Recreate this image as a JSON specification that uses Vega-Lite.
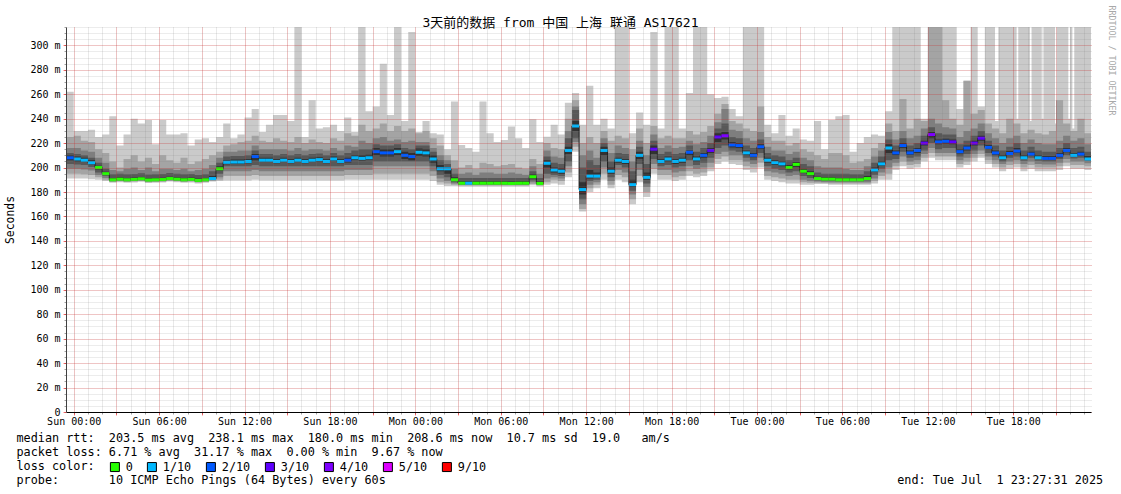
{
"$schema": "https://vega.github.io/schema/vega-lite/v6.json",
"width": 1025,
"height": 385,
"autosize": {"type": "none"},
"padding": {"left": 66, "top": 27, "right": 30, "bottom": 82},
"background": "#ffffff",
"config": {"view": {"stroke": null}, "font": "DejaVu Sans Mono"},
"data": {"values": [
{"t":"2025-06-28T23:30Z","m":208,"l":"2/10","a1":191,"b1":262,"a2":195,"b2":225,"a3":199,"b3":216,"a4":203,"b4":212,"a5":206,"b5":210},
{"t":"2025-06-29T00:00Z","m":207,"l":"1/10","a1":191,"b1":230,"a2":195,"b2":226,"a3":199,"b3":216,"a4":202.5,"b4":211,"a5":205,"b5":209},
{"t":"2025-06-29T00:30Z","m":206,"l":"1/10","a1":191,"b1":230,"a2":194.5,"b2":222,"a3":198.5,"b3":214,"a4":202,"b4":210,"a5":204.5,"b5":208},
{"t":"2025-06-29T01:00Z","m":204,"l":"1/10","a1":190.5,"b1":231,"a2":194,"b2":221,"a3":197.5,"b3":213,"a4":200.5,"b4":208,"a5":202.5,"b5":206},
{"t":"2025-06-29T01:30Z","m":200,"l":"0","a1":190,"b1":225,"a2":192,"b2":215,"a3":194,"b3":208,"a4":196,"b4":204,"a5":198.5,"b5":201.5},
{"t":"2025-06-29T02:00Z","m":195,"l":"0","a1":189,"b1":227,"a2":190,"b2":212,"a3":191.5,"b3":204,"a4":193,"b4":199,"a5":194.3,"b5":196.5},
{"t":"2025-06-29T02:30Z","m":190,"l":"0","a1":187.5,"b1":242,"a2":188.2,"b2":205,"a3":188.7,"b3":198,"a4":189.1,"b4":194.5,"a5":189.5,"b5":191.5},
{"t":"2025-06-29T03:00Z","m":190.5,"l":"0","a1":188,"b1":218,"a2":188.7,"b2":200,"a3":189.2,"b3":197,"a4":189.6,"b4":195,"a5":190,"b5":192},
{"t":"2025-06-29T03:30Z","m":190,"l":"0","a1":187.5,"b1":227,"a2":188.2,"b2":207,"a3":188.7,"b3":199,"a4":189.1,"b4":194.5,"a5":189.5,"b5":191.5},
{"t":"2025-06-29T04:00Z","m":190.3,"l":"0","a1":187.8,"b1":240,"a2":188.5,"b2":210,"a3":189,"b3":200,"a4":189.4,"b4":194.8,"a5":189.8,"b5":191.8},
{"t":"2025-06-29T04:30Z","m":190.8,"l":"0","a1":188.3,"b1":236,"a2":189,"b2":205,"a3":189.5,"b3":198,"a4":189.9,"b4":195.3,"a5":190.3,"b5":192.3},
{"t":"2025-06-29T05:00Z","m":189.8,"l":"0","a1":187.3,"b1":239,"a2":188,"b2":208,"a3":188.5,"b3":200,"a4":188.9,"b4":194.3,"a5":189.3,"b5":191.3},
{"t":"2025-06-29T05:30Z","m":190,"l":"0","a1":187.5,"b1":219,"a2":188.2,"b2":203,"a3":188.7,"b3":197,"a4":189.1,"b4":194.5,"a5":189.5,"b5":191.5},
{"t":"2025-06-29T06:00Z","m":190.2,"l":"0","a1":187.7,"b1":239,"a2":188.4,"b2":210,"a3":188.9,"b3":199,"a4":189.3,"b4":194.7,"a5":189.7,"b5":191.7},
{"t":"2025-06-29T06:30Z","m":191,"l":"0","a1":188.5,"b1":227,"a2":189.2,"b2":206,"a3":189.7,"b3":199,"a4":190.1,"b4":195.5,"a5":190.5,"b5":192.5},
{"t":"2025-06-29T07:00Z","m":190.5,"l":"0","a1":188,"b1":227,"a2":188.7,"b2":204,"a3":189.2,"b3":198,"a4":189.6,"b4":195,"a5":190,"b5":192},
{"t":"2025-06-29T07:30Z","m":190,"l":"0","a1":187.5,"b1":228,"a2":188.2,"b2":208,"a3":188.7,"b3":199,"a4":189.1,"b4":194.5,"a5":189.5,"b5":191.5},
{"t":"2025-06-29T08:00Z","m":190.3,"l":"0","a1":187.8,"b1":218,"a2":188.5,"b2":203,"a3":189,"b3":197,"a4":189.4,"b4":194.8,"a5":189.8,"b5":191.8},
{"t":"2025-06-29T08:30Z","m":189.5,"l":"0","a1":187,"b1":223,"a2":187.7,"b2":205,"a3":188.2,"b3":198,"a4":188.6,"b4":194,"a5":189,"b5":191},
{"t":"2025-06-29T09:00Z","m":190,"l":"0","a1":187.5,"b1":224,"a2":188.2,"b2":207,"a3":188.7,"b3":199,"a4":189.1,"b4":194.5,"a5":189.5,"b5":191.5},
{"t":"2025-06-29T09:30Z","m":191,"l":"1/10","a1":188.5,"b1":221,"a2":189.2,"b2":210,"a3":189.7,"b3":202,"a4":190.1,"b4":197,"a5":190.5,"b5":193},
{"t":"2025-06-29T10:00Z","m":199,"l":"0","a1":189,"b1":225,"a2":190,"b2":213,"a3":192,"b3":208,"a4":195,"b4":204,"a5":197.5,"b5":201},
{"t":"2025-06-29T10:30Z","m":204.3,"l":"1/10","a1":189.5,"b1":236,"a2":193,"b2":218,"a3":197,"b3":213,"a4":201,"b4":209,"a5":202.8,"b5":206},
{"t":"2025-06-29T11:00Z","m":204.5,"l":"1/10","a1":189.5,"b1":224,"a2":193,"b2":219,"a3":197,"b3":213,"a4":201,"b4":209.5,"a5":203,"b5":206.5},
{"t":"2025-06-29T11:30Z","m":204.5,"l":"1/10","a1":189.5,"b1":227,"a2":193,"b2":221,"a3":197,"b3":214,"a4":201,"b4":209.5,"a5":203,"b5":206.5},
{"t":"2025-06-29T12:00Z","m":205,"l":"1/10","a1":189.5,"b1":241,"a2":193,"b2":222,"a3":197,"b3":214,"a4":201,"b4":210,"a5":203.5,"b5":207},
{"t":"2025-06-29T12:30Z","m":209,"l":"2/10","a1":190,"b1":248,"a2":194,"b2":226,"a3":198,"b3":218,"a4":202,"b4":214,"a5":206,"b5":211},
{"t":"2025-06-29T13:00Z","m":206,"l":"1/10","a1":189.5,"b1":229,"a2":193,"b2":222,"a3":197,"b3":215,"a4":201,"b4":211,"a5":204.5,"b5":208},
{"t":"2025-06-29T13:30Z","m":206,"l":"1/10","a1":189.5,"b1":235,"a2":193,"b2":221,"a3":197,"b3":215,"a4":201,"b4":211,"a5":204.5,"b5":208},
{"t":"2025-06-29T14:00Z","m":205,"l":"1/10","a1":189.5,"b1":243,"a2":193,"b2":224,"a3":197,"b3":215,"a4":201,"b4":210,"a5":203.5,"b5":207},
{"t":"2025-06-29T14:30Z","m":206,"l":"1/10","a1":189.5,"b1":243,"a2":193,"b2":222,"a3":197,"b3":215,"a4":201,"b4":211,"a5":204.5,"b5":208},
{"t":"2025-06-29T15:00Z","m":205,"l":"1/10","a1":189.5,"b1":238,"a2":193,"b2":221,"a3":197,"b3":214,"a4":201,"b4":210,"a5":203.5,"b5":207},
{"t":"2025-06-29T15:30Z","m":206,"l":"1/10","a1":189.5,"b1":315,"a2":193,"b2":225,"a3":197,"b3":216,"a4":201,"b4":211,"a5":204.5,"b5":208},
{"t":"2025-06-29T16:00Z","m":205,"l":"1/10","a1":189.5,"b1":225,"a2":193,"b2":220,"a3":197,"b3":214,"a4":201,"b4":210,"a5":203.5,"b5":207},
{"t":"2025-06-29T16:30Z","m":206,"l":"1/10","a1":189.5,"b1":255,"a2":193,"b2":223,"a3":197,"b3":215,"a4":201,"b4":211,"a5":204.5,"b5":208},
{"t":"2025-06-29T17:00Z","m":206.5,"l":"1/10","a1":189.5,"b1":232,"a2":193,"b2":221,"a3":197,"b3":215,"a4":201,"b4":211.5,"a5":205,"b5":208.5},
{"t":"2025-06-29T17:30Z","m":205,"l":"1/10","a1":189.5,"b1":233,"a2":193,"b2":220,"a3":197,"b3":214,"a4":201,"b4":210,"a5":203.5,"b5":207},
{"t":"2025-06-29T18:00Z","m":207,"l":"1/10","a1":189.5,"b1":235,"a2":193,"b2":224,"a3":197,"b3":216,"a4":201,"b4":212,"a5":205.5,"b5":209},
{"t":"2025-06-29T18:30Z","m":205,"l":"1/10","a1":189.5,"b1":230,"a2":193,"b2":222,"a3":197,"b3":214,"a4":201,"b4":210,"a5":203.5,"b5":207},
{"t":"2025-06-29T19:00Z","m":206,"l":"2/10","a1":190,"b1":241,"a2":194,"b2":228,"a3":198,"b3":218,"a4":202,"b4":212,"a5":204.2,"b5":208},
{"t":"2025-06-29T19:30Z","m":208,"l":"1/10","a1":190,"b1":229,"a2":194,"b2":226,"a3":198,"b3":217,"a4":202,"b4":214,"a5":206.2,"b5":210},
{"t":"2025-06-29T20:00Z","m":207.5,"l":"1/10","a1":190,"b1":315,"a2":194,"b2":235,"a3":198,"b3":222,"a4":202,"b4":215,"a5":205.7,"b5":210},
{"t":"2025-06-29T20:30Z","m":208,"l":"1/10","a1":190,"b1":246,"a2":194,"b2":230,"a3":198,"b3":220,"a4":202,"b4":215,"a5":206.2,"b5":210.5},
{"t":"2025-06-29T21:00Z","m":213,"l":"2/10","a1":190,"b1":250,"a2":195,"b2":232,"a3":201,"b3":224,"a4":205,"b4":219,"a5":210,"b5":216},
{"t":"2025-06-29T21:30Z","m":212,"l":"2/10","a1":190,"b1":285,"a2":195,"b2":236,"a3":201,"b3":225,"a4":205,"b4":218,"a5":209,"b5":215},
{"t":"2025-06-29T22:00Z","m":212,"l":"2/10","a1":190,"b1":243,"a2":195,"b2":230,"a3":201,"b3":222,"a4":205,"b4":218,"a5":209,"b5":215},
{"t":"2025-06-29T22:30Z","m":213,"l":"1/10","a1":190,"b1":315,"a2":195,"b2":234,"a3":201,"b3":223,"a4":205,"b4":219,"a5":210,"b5":216},
{"t":"2025-06-29T23:00Z","m":210,"l":"2/10","a1":190,"b1":238,"a2":195,"b2":230,"a3":201,"b3":221,"a4":205,"b4":216,"a5":207,"b5":213},
{"t":"2025-06-29T23:30Z","m":209,"l":"2/10","a1":190,"b1":311,"a2":195,"b2":232,"a3":201,"b3":222,"a4":205,"b4":215,"a5":206,"b5":212},
{"t":"2025-06-30T00:00Z","m":212.5,"l":"1/10","a1":190,"b1":229,"a2":195,"b2":228,"a3":201,"b3":221,"a4":205,"b4":218,"a5":209.5,"b5":215.5},
{"t":"2025-06-30T00:30Z","m":212,"l":"1/10","a1":190,"b1":238,"a2":195,"b2":230,"a3":201,"b3":221,"a4":205,"b4":218,"a5":209,"b5":215},
{"t":"2025-06-30T01:00Z","m":207,"l":"1/10","a1":189,"b1":228,"a2":193,"b2":224,"a3":197,"b3":216,"a4":201,"b4":213,"a5":204,"b5":210},
{"t":"2025-06-30T01:30Z","m":199,"l":"1/10","a1":186,"b1":227,"a2":188,"b2":218,"a3":191,"b3":210,"a4":194,"b4":206,"a5":197,"b5":202},
{"t":"2025-06-30T02:00Z","m":199,"l":"1/10","a1":185,"b1":215,"a2":187,"b2":210,"a3":189,"b3":206,"a4":192,"b4":203,"a5":195,"b5":200.5},
{"t":"2025-06-30T02:30Z","m":190,"l":"0","a1":185,"b1":254,"a2":186,"b2":206,"a3":187,"b3":199,"a4":188,"b4":195,"a5":189,"b5":192},
{"t":"2025-06-30T03:00Z","m":187.2,"l":"0","a1":184.5,"b1":218.5,"a2":185.3,"b2":200,"a3":185.8,"b3":195,"a4":186.3,"b4":191.5,"a5":186.7,"b5":188.7},
{"t":"2025-06-30T03:30Z","m":187.2,"l":"1/10","a1":184.5,"b1":216,"a2":185.3,"b2":202,"a3":185.8,"b3":196,"a4":186.3,"b4":191.5,"a5":186.7,"b5":188.7},
{"t":"2025-06-30T04:00Z","m":187.2,"l":"0","a1":184.5,"b1":213,"a2":185.3,"b2":199,"a3":185.8,"b3":194,"a4":186.3,"b4":191.5,"a5":186.7,"b5":188.7},
{"t":"2025-06-30T04:30Z","m":187.2,"l":"0","a1":184.5,"b1":254,"a2":185.3,"b2":204,"a3":185.8,"b3":196,"a4":186.3,"b4":191.5,"a5":186.7,"b5":188.7},
{"t":"2025-06-30T05:00Z","m":187.2,"l":"0","a1":184.5,"b1":228,"a2":185.3,"b2":203,"a3":185.8,"b3":196,"a4":186.3,"b4":191.5,"a5":186.7,"b5":188.7},
{"t":"2025-06-30T05:30Z","m":187.2,"l":"0","a1":184.5,"b1":221,"a2":185.3,"b2":201,"a3":185.8,"b3":195,"a4":186.3,"b4":191.5,"a5":186.7,"b5":188.7},
{"t":"2025-06-30T06:00Z","m":187.2,"l":"0","a1":184.5,"b1":222.6,"a2":185.3,"b2":202,"a3":185.8,"b3":195,"a4":186.3,"b4":191.5,"a5":186.7,"b5":188.7},
{"t":"2025-06-30T06:30Z","m":187,"l":"0","a1":184.5,"b1":233.5,"a2":185.3,"b2":203,"a3":185.8,"b3":196,"a4":186.3,"b4":191.5,"a5":186.6,"b5":188.5},
{"t":"2025-06-30T07:00Z","m":187.2,"l":"0","a1":184.5,"b1":224,"a2":185.3,"b2":200,"a3":185.8,"b3":195,"a4":186.3,"b4":191.5,"a5":186.7,"b5":188.7},
{"t":"2025-06-30T07:30Z","m":187.2,"l":"0","a1":184.5,"b1":216,"a2":185.3,"b2":199,"a3":185.8,"b3":194,"a4":186.3,"b4":191.5,"a5":186.7,"b5":188.7},
{"t":"2025-06-30T08:00Z","m":192.5,"l":"0","a1":185.5,"b1":239.5,"a2":186.5,"b2":207,"a3":188,"b3":201,"a4":189.5,"b4":197,"a5":191,"b5":194.5},
{"t":"2025-06-30T08:30Z","m":187,"l":"0","a1":184.5,"b1":221,"a2":185.3,"b2":203,"a3":185.8,"b3":195,"a4":186.3,"b4":191.5,"a5":186.6,"b5":188.5},
{"t":"2025-06-30T09:00Z","m":203.5,"l":"1/10","a1":186,"b1":225.3,"a2":188,"b2":220,"a3":191,"b3":214,"a4":195,"b4":209,"a5":200,"b5":206},
{"t":"2025-06-30T09:30Z","m":198,"l":"1/10","a1":187,"b1":235,"a2":190,"b2":216,"a3":192,"b3":209,"a4":194,"b4":204,"a5":196,"b5":200},
{"t":"2025-06-30T10:00Z","m":197,"l":"1/10","a1":186,"b1":227,"a2":189,"b2":215,"a3":191,"b3":208,"a4":193,"b4":203,"a5":195,"b5":199.5},
{"t":"2025-06-30T10:30Z","m":214,"l":"1/10","a1":192,"b1":253,"a2":196,"b2":240,"a3":201,"b3":230,"a4":205,"b4":224,"a5":211,"b5":217},
{"t":"2025-06-30T11:00Z","m":234,"l":"1/10","a1":213,"b1":261,"a2":217,"b2":255,"a3":221,"b3":250,"a4":224,"b4":247,"a5":230,"b5":238},
{"t":"2025-06-30T11:30Z","m":182,"l":"1/10","a1":164,"b1":235,"a2":166,"b2":220,"a3":170,"b3":210,"a4":174,"b4":200,"a5":178,"b5":188},
{"t":"2025-06-30T12:00Z","m":193,"l":"1/10","a1":180,"b1":267,"a2":183,"b2":225,"a3":186,"b3":214,"a4":189,"b4":206,"a5":191,"b5":198},
{"t":"2025-06-30T12:30Z","m":193,"l":"1/10","a1":183,"b1":235,"a2":186,"b2":220,"a3":188,"b3":208,"a4":190,"b4":202,"a5":192,"b5":196},
{"t":"2025-06-30T13:00Z","m":214,"l":"1/10","a1":190,"b1":240,"a2":195,"b2":230,"a3":200,"b3":224,"a4":205,"b4":220,"a5":210,"b5":217},
{"t":"2025-06-30T13:30Z","m":197,"l":"1/10","a1":183,"b1":232,"a2":186,"b2":222,"a3":189,"b3":212,"a4":192,"b4":205,"a5":195,"b5":200},
{"t":"2025-06-30T14:00Z","m":206,"l":"1/10","a1":190,"b1":315,"a2":194,"b2":226,"a3":198,"b3":218,"a4":202,"b4":212,"a5":204,"b5":208},
{"t":"2025-06-30T14:30Z","m":205,"l":"1/10","a1":188,"b1":315,"a2":192,"b2":224,"a3":196,"b3":216,"a4":200,"b4":211,"a5":203,"b5":207},
{"t":"2025-06-30T15:00Z","m":186,"l":"1/10","a1":170,"b1":228,"a2":174,"b2":215,"a3":178,"b3":205,"a4":181,"b4":197,"a5":184,"b5":190},
{"t":"2025-06-30T15:30Z","m":210,"l":"1/10","a1":188,"b1":245,"a2":193,"b2":232,"a3":198,"b3":222,"a4":203,"b4":217,"a5":207,"b5":213},
{"t":"2025-06-30T16:00Z","m":192,"l":"1/10","a1":176,"b1":235,"a2":180,"b2":220,"a3":184,"b3":210,"a4":187,"b4":203,"a5":190,"b5":196},
{"t":"2025-06-30T16:30Z","m":215,"l":"3/10","a1":195,"b1":311,"a2":199,"b2":234,"a3":203,"b3":227,"a4":207,"b4":222,"a5":211,"b5":218},
{"t":"2025-06-30T17:00Z","m":205,"l":"1/10","a1":190,"b1":232,"a2":194,"b2":224,"a3":198,"b3":216,"a4":201,"b4":211,"a5":203.5,"b5":207},
{"t":"2025-06-30T17:30Z","m":207,"l":"1/10","a1":190,"b1":315,"a2":194,"b2":226,"a3":198,"b3":218,"a4":202,"b4":213,"a5":205,"b5":209},
{"t":"2025-06-30T18:00Z","m":205,"l":"1/10","a1":189,"b1":315,"a2":192,"b2":224,"a3":196,"b3":216,"a4":200,"b4":211,"a5":203,"b5":207},
{"t":"2025-06-30T18:30Z","m":206,"l":"1/10","a1":190,"b1":232,"a2":193,"b2":224,"a3":197,"b3":217,"a4":201,"b4":212,"a5":204,"b5":208},
{"t":"2025-06-30T19:00Z","m":212.5,"l":"2/10","a1":193,"b1":261,"a2":197,"b2":230,"a3":201,"b3":222,"a4":206,"b4":218,"a5":210,"b5":214},
{"t":"2025-06-30T19:30Z","m":207,"l":"1/10","a1":192,"b1":315,"a2":195,"b2":227,"a3":199,"b3":219,"a4":202,"b4":213,"a5":205,"b5":209},
{"t":"2025-06-30T20:00Z","m":210,"l":"2/10","a1":193,"b1":315,"a2":196,"b2":229,"a3":200,"b3":221,"a4":204,"b4":216,"a5":208,"b5":212},
{"t":"2025-06-30T20:30Z","m":214,"l":"3/10","a1":197,"b1":260,"a2":200,"b2":234,"a3":204,"b3":226,"a4":208,"b4":220,"a5":212,"b5":216},
{"t":"2025-06-30T21:00Z","m":225,"l":"3/10","a1":203,"b1":257,"a2":207,"b2":244,"a3":211,"b3":237,"a4":216,"b4":232,"a5":221,"b5":228},
{"t":"2025-06-30T21:30Z","m":226,"l":"4/10","a1":205,"b1":258,"a2":209,"b2":252,"a3":213,"b3":248,"a4":218,"b4":236,"a5":223,"b5":229},
{"t":"2025-06-30T22:00Z","m":218.5,"l":"2/10","a1":203,"b1":248,"a2":206,"b2":238,"a3":210,"b3":231,"a4":214,"b4":225,"a5":216.5,"b5":221},
{"t":"2025-06-30T22:30Z","m":218,"l":"2/10","a1":202,"b1":242,"a2":206,"b2":236,"a3":210,"b3":230,"a4":213,"b4":224,"a5":216,"b5":220},
{"t":"2025-06-30T23:00Z","m":212,"l":"1/10","a1":198,"b1":315,"a2":201,"b2":232,"a3":205,"b3":224,"a4":208,"b4":218,"a5":210,"b5":214},
{"t":"2025-06-30T23:30Z","m":210,"l":"2/10","a1":196,"b1":315,"a2":200,"b2":230,"a3":203,"b3":222,"a4":206,"b4":216,"a5":208.5,"b5":212},
{"t":"2025-07-01T00:00Z","m":217,"l":"2/10","a1":200,"b1":315,"a2":204,"b2":250,"a3":208,"b3":229,"a4":212,"b4":223,"a5":215,"b5":219},
{"t":"2025-07-01T00:30Z","m":206,"l":"1/10","a1":190,"b1":235,"a2":193,"b2":225,"a3":197,"b3":217,"a4":201,"b4":212,"a5":204,"b5":208},
{"t":"2025-07-01T01:00Z","m":204,"l":"1/10","a1":189,"b1":228,"a2":192,"b2":222,"a3":196,"b3":214,"a4":199,"b4":210,"a5":202,"b5":206},
{"t":"2025-07-01T01:30Z","m":203,"l":"1/10","a1":188,"b1":243,"a2":191,"b2":222,"a3":195,"b3":214,"a4":198,"b4":209,"a5":201,"b5":205},
{"t":"2025-07-01T02:00Z","m":200,"l":"0","a1":187,"b1":226,"a2":190,"b2":218,"a3":193,"b3":211,"a4":196,"b4":206,"a5":198.5,"b5":202},
{"t":"2025-07-01T02:30Z","m":202.6,"l":"0","a1":187,"b1":232,"a2":190,"b2":220,"a3":194,"b3":213,"a4":197,"b4":208,"a5":200.5,"b5":204.5},
{"t":"2025-07-01T03:00Z","m":197,"l":"0","a1":186,"b1":223,"a2":188,"b2":215,"a3":190,"b3":208,"a4":193,"b4":203,"a5":195.5,"b5":199},
{"t":"2025-07-01T03:30Z","m":195,"l":"0","a1":186,"b1":222,"a2":187.5,"b2":213,"a3":189,"b3":206,"a4":191.5,"b4":201,"a5":193.5,"b5":197},
{"t":"2025-07-01T04:00Z","m":191,"l":"0","a1":186.5,"b1":238,"a2":187.5,"b2":210,"a3":188.5,"b3":201,"a4":189.5,"b4":196,"a5":190.3,"b5":192.5},
{"t":"2025-07-01T04:30Z","m":190.5,"l":"0","a1":186.5,"b1":215,"a2":187.3,"b2":207,"a3":188.2,"b3":200,"a4":189,"b4":195,"a5":189.8,"b5":192},
{"t":"2025-07-01T05:00Z","m":190.5,"l":"0","a1":186,"b1":239,"a2":187,"b2":212,"a3":188,"b3":200,"a4":189,"b4":195,"a5":189.7,"b5":192},
{"t":"2025-07-01T05:30Z","m":190,"l":"0","a1":186,"b1":242,"a2":187,"b2":212,"a3":188,"b3":200,"a4":188.8,"b4":195,"a5":189.4,"b5":191.5},
{"t":"2025-07-01T06:00Z","m":190,"l":"0","a1":186,"b1":243,"a2":187,"b2":210,"a3":188,"b3":199,"a4":188.8,"b4":195,"a5":189.4,"b5":191.5},
{"t":"2025-07-01T06:30Z","m":190,"l":"0","a1":186,"b1":213,"a2":187,"b2":204,"a3":188,"b3":198,"a4":188.8,"b4":194.5,"a5":189.4,"b5":191.5},
{"t":"2025-07-01T07:00Z","m":190,"l":"0","a1":186,"b1":220,"a2":187,"b2":205,"a3":188,"b3":198,"a4":188.8,"b4":194.5,"a5":189.4,"b5":191.5},
{"t":"2025-07-01T07:30Z","m":191,"l":"0","a1":186,"b1":225,"a2":187,"b2":207,"a3":188,"b3":201,"a4":189.5,"b4":197,"a5":190.3,"b5":193},
{"t":"2025-07-01T08:00Z","m":198,"l":"1/10","a1":187,"b1":227,"a2":189,"b2":216,"a3":191,"b3":209,"a4":194,"b4":204,"a5":196.5,"b5":200},
{"t":"2025-07-01T08:30Z","m":203,"l":"1/10","a1":190,"b1":226,"a2":193,"b2":220,"a3":196,"b3":214,"a4":199,"b4":209,"a5":201.5,"b5":205},
{"t":"2025-07-01T09:00Z","m":216,"l":"1/10","a1":190,"b1":246,"a2":195,"b2":236,"a3":200,"b3":229,"a4":206,"b4":223,"a5":212,"b5":219},
{"t":"2025-07-01T09:30Z","m":212,"l":"2/10","a1":198,"b1":315,"a2":201,"b2":230,"a3":204,"b3":223,"a4":207,"b4":218,"a5":210,"b5":214},
{"t":"2025-07-01T10:00Z","m":218,"l":"2/10","a1":201,"b1":315,"a2":205,"b2":256,"a3":209,"b3":230,"a4":213,"b4":224,"a5":216,"b5":220},
{"t":"2025-07-01T10:30Z","m":212,"l":"2/10","a1":199,"b1":315,"a2":202,"b2":232,"a3":205,"b3":224,"a4":208,"b4":218,"a5":210.5,"b5":214},
{"t":"2025-07-01T11:00Z","m":214,"l":"2/10","a1":200,"b1":315,"a2":203,"b2":240,"a3":206,"b3":226,"a4":209,"b4":220,"a5":212,"b5":216},
{"t":"2025-07-01T11:30Z","m":220,"l":"3/10","a1":205,"b1":240,"a2":208,"b2":238,"a3":211,"b3":232,"a4":214,"b4":226,"a5":218,"b5":222},
{"t":"2025-07-01T12:00Z","m":227,"l":"4/10","a1":208,"b1":315,"a2":212,"b2":315,"a3":216,"b3":240,"a4":220,"b4":233,"a5":224,"b5":229},
{"t":"2025-07-01T12:30Z","m":221,"l":"2/10","a1":206,"b1":315,"a2":209,"b2":315,"a3":212,"b3":236,"a4":215,"b4":228,"a5":219,"b5":223},
{"t":"2025-07-01T13:00Z","m":221.5,"l":"2/10","a1":206,"b1":315,"a2":209,"b2":255,"a3":212,"b3":233,"a4":216,"b4":227,"a5":219.5,"b5":223.5},
{"t":"2025-07-01T13:30Z","m":221,"l":"3/10","a1":206,"b1":315,"a2":209,"b2":240,"a3":212,"b3":232,"a4":216,"b4":227,"a5":219,"b5":223},
{"t":"2025-07-01T14:00Z","m":213,"l":"2/10","a1":200,"b1":248,"a2":203,"b2":235,"a3":206,"b3":225,"a4":209,"b4":219,"a5":211.5,"b5":215},
{"t":"2025-07-01T14:30Z","m":216,"l":"2/10","a1":202,"b1":271,"a2":205,"b2":271,"a3":208,"b3":230,"a4":211,"b4":222,"a5":214,"b5":218},
{"t":"2025-07-01T15:00Z","m":220,"l":"3/10","a1":205,"b1":315,"a2":208,"b2":244,"a3":211,"b3":232,"a4":214,"b4":226,"a5":218,"b5":222},
{"t":"2025-07-01T15:30Z","m":224,"l":"3/10","a1":208,"b1":250,"a2":211,"b2":247,"a3":214,"b3":236,"a4":218,"b4":230,"a5":222,"b5":226},
{"t":"2025-07-01T16:00Z","m":216.5,"l":"2/10","a1":203,"b1":315,"a2":206,"b2":236,"a3":209,"b3":228,"a4":212,"b4":222,"a5":215,"b5":218.5},
{"t":"2025-07-01T16:30Z","m":212,"l":"2/10","a1":200,"b1":315,"a2":203,"b2":232,"a3":206,"b3":224,"a4":209,"b4":218,"a5":210.5,"b5":214},
{"t":"2025-07-01T16:43Z","a1":200,"b1":238,"a2":203,"b2":232,"a3":206,"b3":224,"a4":209,"b4":218,"a5":210.5,"b5":214},
{"t":"2025-07-01T16:57Z","a1":200,"b1":315,"a2":203,"b2":232,"a3":206,"b3":224,"a4":209,"b4":218,"a5":210.5,"b5":214},
{"t":"2025-07-01T17:00Z","m":208,"l":"1/10","a1":197,"b1":315,"a2":200,"b2":228,"a3":203,"b3":220,"a4":205,"b4":214,"a5":206.5,"b5":210},
{"t":"2025-07-01T17:30Z","m":211.5,"l":"2/10","a1":199,"b1":315,"a2":202,"b2":240,"a3":205,"b3":224,"a4":208,"b4":217,"a5":210,"b5":213.5},
{"t":"2025-07-01T18:00Z","m":213.5,"l":"2/10","a1":200,"b1":315,"a2":203,"b2":236,"a3":206,"b3":226,"a4":209,"b4":220,"a5":212,"b5":216},
{"t":"2025-07-01T18:14Z","a1":200,"b1":240,"a2":203,"b2":236,"a3":206,"b3":226,"a4":209,"b4":220,"a5":212,"b5":216},
{"t":"2025-07-01T18:21Z","a1":200,"b1":315,"a2":203,"b2":236,"a3":206,"b3":226,"a4":209,"b4":220,"a5":212,"b5":216},
{"t":"2025-07-01T18:30Z","m":208,"l":"1/10","a1":197,"b1":315,"a2":200,"b2":228,"a3":203,"b3":220,"a4":205.5,"b4":214,"a5":207,"b5":210},
{"t":"2025-07-01T19:00Z","m":211,"l":"2/10","a1":199,"b1":315,"a2":202,"b2":231,"a3":205,"b3":223,"a4":208,"b4":217,"a5":209.5,"b5":213},
{"t":"2025-07-01T19:10Z","a1":199,"b1":238,"a2":202,"b2":231,"a3":205,"b3":223,"a4":208,"b4":217,"a5":209.5,"b5":213},
{"t":"2025-07-01T19:17Z","a1":199,"b1":315,"a2":202,"b2":231,"a3":205,"b3":223,"a4":208,"b4":217,"a5":209.5,"b5":213},
{"t":"2025-07-01T19:30Z","m":208,"l":"1/10","a1":197,"b1":315,"a2":200,"b2":228,"a3":203,"b3":220,"a4":205.5,"b4":214,"a5":207,"b5":210},
{"t":"2025-07-01T20:00Z","m":207.5,"l":"2/10","a1":197,"b1":240,"a2":200,"b2":227,"a3":202.5,"b3":219,"a4":205,"b4":213,"a5":206.5,"b5":209.5},
{"t":"2025-07-01T20:07Z","a1":197,"b1":315,"a2":200,"b2":227,"a3":202.5,"b3":219,"a4":205,"b4":213,"a5":206.5,"b5":209.5},
{"t":"2025-07-01T20:30Z","m":207.5,"l":"2/10","a1":197,"b1":315,"a2":200,"b2":230,"a3":202.5,"b3":219,"a4":205,"b4":213,"a5":206.5,"b5":209.5},
{"t":"2025-07-01T20:56Z","a1":197,"b1":236,"a2":200,"b2":230,"a3":202.5,"b3":219,"a4":205,"b4":213,"a5":206.5,"b5":209.5},
{"t":"2025-07-01T21:00Z","m":210,"l":"2/10","a1":198,"b1":236,"a2":201,"b2":255,"a3":204,"b3":222,"a4":207,"b4":216,"a5":208.5,"b5":212},
{"t":"2025-07-01T21:03Z","a1":198,"b1":315,"a2":201,"b2":255,"a3":204,"b3":222,"a4":207,"b4":216,"a5":208.5,"b5":212},
{"t":"2025-07-01T21:30Z","m":214,"l":"2/10","a1":201,"b1":315,"a2":204,"b2":236,"a3":207,"b3":226,"a4":210,"b4":220,"a5":212.5,"b5":216},
{"t":"2025-07-01T21:52Z","a1":201,"b1":240,"a2":204,"b2":236,"a3":207,"b3":226,"a4":210,"b4":220,"a5":212.5,"b5":216},
{"t":"2025-07-01T21:59Z","a1":201,"b1":315,"a2":204,"b2":236,"a3":207,"b3":226,"a4":210,"b4":220,"a5":212.5,"b5":216},
{"t":"2025-07-01T22:00Z","m":210,"l":"1/10","a1":199,"b1":315,"a2":202,"b2":230,"a3":205,"b3":222,"a4":207.5,"b4":216,"a5":209,"b5":212},
{"t":"2025-07-01T22:09Z","a1":199,"b1":232,"a2":202,"b2":230,"a3":205,"b3":222,"a4":207.5,"b4":216,"a5":209,"b5":212},
{"t":"2025-07-01T22:17Z","a1":199,"b1":315,"a2":202,"b2":230,"a3":205,"b3":222,"a4":207.5,"b4":216,"a5":209,"b5":212},
{"t":"2025-07-01T22:30Z","m":211,"l":"2/10","a1":199,"b1":315,"a2":202,"b2":240,"a3":205,"b3":224,"a4":208,"b4":217,"a5":209.5,"b5":213},
{"t":"2025-07-01T23:00Z","m":207,"l":"1/10","a1":198,"b1":315,"a2":201,"b2":228,"a3":203.5,"b3":219,"a4":205.5,"b4":213,"a5":206.5,"b5":209.5},
{"t":"2025-07-01T23:30Z","m":207,"l":"1/10","a1":198,"b1":315,"a2":201,"b2":228,"a3":203.5,"b3":219,"a4":205.5,"b4":213,"a5":206.5,"b5":209.5}
]},
"resolve": {"axis": {"x": "independent", "y": "independent"}},
"layer": [
{
"mark": {"type": "area", "interpolate": "step-after", "color": "#cacaca", "opacity": 1, "clip": true},
"encoding": {
"x": {"field": "t", "type": "temporal",
"scale": {"type": "utc", "domain": [1751153251000, 1751412451000]},
"axis": {"orient": "bottom", "tickCount": 72, "grid": true, "gridColor": "#808080", "gridOpacity": 0.35, "gridDash": [1, 1], "labels": false, "ticks": true, "tickSize": 2, "tickColor": "#a0a0a0", "domain": false, "title": null, "zindex": 1}},
"y": {"field": "a1", "type": "quantitative", "scale": {"domain": [0, 315], "nice": false, "zero": true},
"axis": {"orient": "left", "values": [0,5,10,15,20,25,30,35,40,45,50,55,60,65,70,75,80,85,90,95,100,105,110,115,120,125,130,135,140,145,150,155,160,165,170,175,180,185,190,195,200,205,210,215,220,225,230,235,240,245,250,255,260,265,270,275,280,285,290,295,300,305,310,315], "grid": true, "gridColor": "#808080", "gridOpacity": 0.3, "gridDash": [1, 1], "labels": false, "ticks": true, "tickSize": 2, "tickColor": "#a0a0a0", "domain": false, "title": null, "zindex": 1}},
"y2": {"field": "b1"}
}
},
{
"mark": {"type": "area", "interpolate": "step-after", "color": "#a4a4a4", "opacity": 1, "clip": true},
"encoding": {
"x": {"field": "t", "type": "temporal",
"axis": {"orient": "bottom", "tickCount": 24, "grid": true, "gridColor": "#ff0000", "gridOpacity": 0.33, "gridDash": [1, 1], "labels": false, "ticks": true, "tickSize": 3, "tickColor": "#ff0000", "tickOpacity": 0.5, "domain": false, "title": null, "zindex": 1}},
"y": {"field": "a2", "type": "quantitative",
"axis": {"orient": "left", "values": [0,20,40,60,80,100,120,140,160,180,200,220,240,260,280,300], "grid": true, "gridColor": "#ff0000", "gridOpacity": 0.33, "gridDash": [1, 1], "labels": false, "ticks": true, "tickSize": 3, "tickColor": "#ff0000", "tickOpacity": 0.5, "domain": false, "title": null, "zindex": 1}},
"y2": {"field": "b2"}
}
},
{
"mark": {"type": "area", "interpolate": "step-after", "color": "#7e7e7e", "opacity": 1, "clip": true},
"encoding": {
"x": {"field": "t", "type": "temporal",
"axis": {"orient": "bottom", "tickCount": 12, "format": "%a %H:%M", "grid": false, "ticks": false, "labels": true, "labelFont": "DejaVu Sans Mono", "labelFontSize": 10, "labelColor": "#000000", "labelPadding": 4, "labelFlush": false, "labelOverlap": false, "domain": true, "domainColor": "#000000", "domainWidth": 1, "zindex": 1,
"title": ["median rtt:\u00a0\u00a0203.5 ms avg\u00a0\u00a0238.1 ms max\u00a0\u00a0180.0 ms min\u00a0\u00a0208.6 ms now\u00a0\u00a010.7 ms sd\u00a0\u00a019.0\u00a0\u00a0\u00a0am/s", "packet loss: 6.71 % avg\u00a0\u00a031.17 % max\u00a0\u00a00.00 % min\u00a0\u00a09.67 % now", "loss color:", "probe:\u00a0\u00a0\u00a0\u00a0\u00a0\u00a0\u00a010 ICMP Echo Pings (64 Bytes) every 60s\u00a0\u00a0\u00a0\u00a0\u00a0\u00a0\u00a0\u00a0\u00a0\u00a0\u00a0\u00a0\u00a0\u00a0\u00a0\u00a0\u00a0\u00a0\u00a0\u00a0\u00a0\u00a0\u00a0\u00a0\u00a0\u00a0\u00a0\u00a0\u00a0\u00a0\u00a0\u00a0\u00a0\u00a0\u00a0\u00a0\u00a0\u00a0\u00a0\u00a0\u00a0\u00a0\u00a0\u00a0\u00a0\u00a0\u00a0\u00a0\u00a0\u00a0\u00a0\u00a0\u00a0\u00a0\u00a0\u00a0\u00a0\u00a0\u00a0\u00a0\u00a0\u00a0\u00a0\u00a0\u00a0\u00a0\u00a0\u00a0\u00a0\u00a0\u00a0\u00a0end: Tue Jul\u00a0\u00a01 23:27:31 2025"],
"titleFont": "DejaVu Sans Mono", "titleFontSize": 11.8, "titleFontWeight": "normal", "titleColor": "#000000", "titleAlign": "left", "titleBaseline": "top", "titleX": -50, "titleY": 20, "titleLineHeight": 14}},
"y": {"field": "a3", "type": "quantitative",
"axis": {"orient": "left", "values": [0,20,40,60,80,100,120,140,160,180,200,220,240,260,280,300], "labelExpr": "datum.value == 0 ? '0' : datum.value + ' m'", "grid": false, "ticks": false, "labelFont": "DejaVu Sans Mono", "labelFontSize": 10, "labelColor": "#000000", "labelPadding": 6, "domain": true, "domainColor": "#404040", "domainWidth": 1, "zindex": 1,
"title": "Seconds", "titleFont": "DejaVu Sans Mono", "titleFontSize": 11.4, "titleFontWeight": "normal", "titleColor": "#000000", "titleX": -56, "titleBaseline": "middle", "titleAngle": 270}},
"y2": {"field": "b3"}
}
},
{
"mark": {"type": "area", "interpolate": "step-after", "color": "#585858", "opacity": 1, "clip": true},
"encoding": {
"x": {"field": "t", "type": "temporal",
"axis": {"orient": "top", "labels": false, "ticks": false, "grid": false, "domain": false,
"title": "3天前的数据 from 中国 上海 联通 AS17621", "titleFont": "DejaVu Sans Mono, Noto Sans CJK SC", "titleFontSize": 13, "titleFontWeight": "normal", "titleColor": "#000000", "titleX": 494, "titleY": -1, "titleAlign": "center", "titleBaseline": "alphabetic"}},
"y": {"field": "a4", "type": "quantitative",
"axis": {"orient": "right", "labels": false, "ticks": false, "grid": false, "domain": false,
"title": "RRDTOOL / TOBI OETIKER", "titleFont": "DejaVu Sans Mono", "titleFontSize": 8.3, "titleFontWeight": "normal", "titleColor": "#a8a8a8", "titleAngle": 90, "titleX": 19, "titleY": -22, "titleAlign": "left", "titleBaseline": "middle"}},
"y2": {"field": "b4"}
}
},
{
"mark": {"type": "area", "interpolate": "step-after", "color": "#323232", "opacity": 1, "clip": true},
"encoding": {
"x": {"field": "t", "type": "temporal", "axis": null},
"y": {"field": "a5", "type": "quantitative", "axis": null},
"y2": {"field": "b5"}
}
},
{
"mark": {"type": "line", "interpolate": "step-after", "color": "#202020", "strokeWidth": 1, "clip": true, "invalid": "filter"},
"encoding": {
"x": {"field": "t", "type": "temporal", "axis": null},
"y": {"field": "m", "type": "quantitative", "axis": null}
}
},
{
"mark": {"type": "tick", "orient": "horizontal", "size": 7.12, "thickness": 3, "xOffset": 3.56, "opacity": 1, "clip": true, "invalid": "filter"},
"encoding": {
"x": {"field": "t", "type": "temporal", "axis": null},
"y": {"field": "m", "type": "quantitative", "axis": null},
"color": {"field": "l", "type": "nominal",
"scale": {"domain": ["0", "1/10", "2/10", "3/10", "4/10", "5/10", "9/10"], "range": ["#26ff00", "#00b8ff", "#0059ff", "#5e00ff", "#7e00ff", "#dd00ff", "#ff0000"]},
"legend": {"orient": "none", "legendX": 43, "legendY": 434, "direction": "horizontal", "columns": 7, "padding": 0, "title": null,
"symbolType": "square", "symbolSize": 81, "symbolStrokeColor": "#000000", "symbolStrokeWidth": 1, "symbolOpacity": 1,
"labelFont": "DejaVu Sans Mono", "labelFontSize": 11.8, "labelColor": "#000000", "labelOffset": 5, "columnPadding": 12}}
}
}
]
}
